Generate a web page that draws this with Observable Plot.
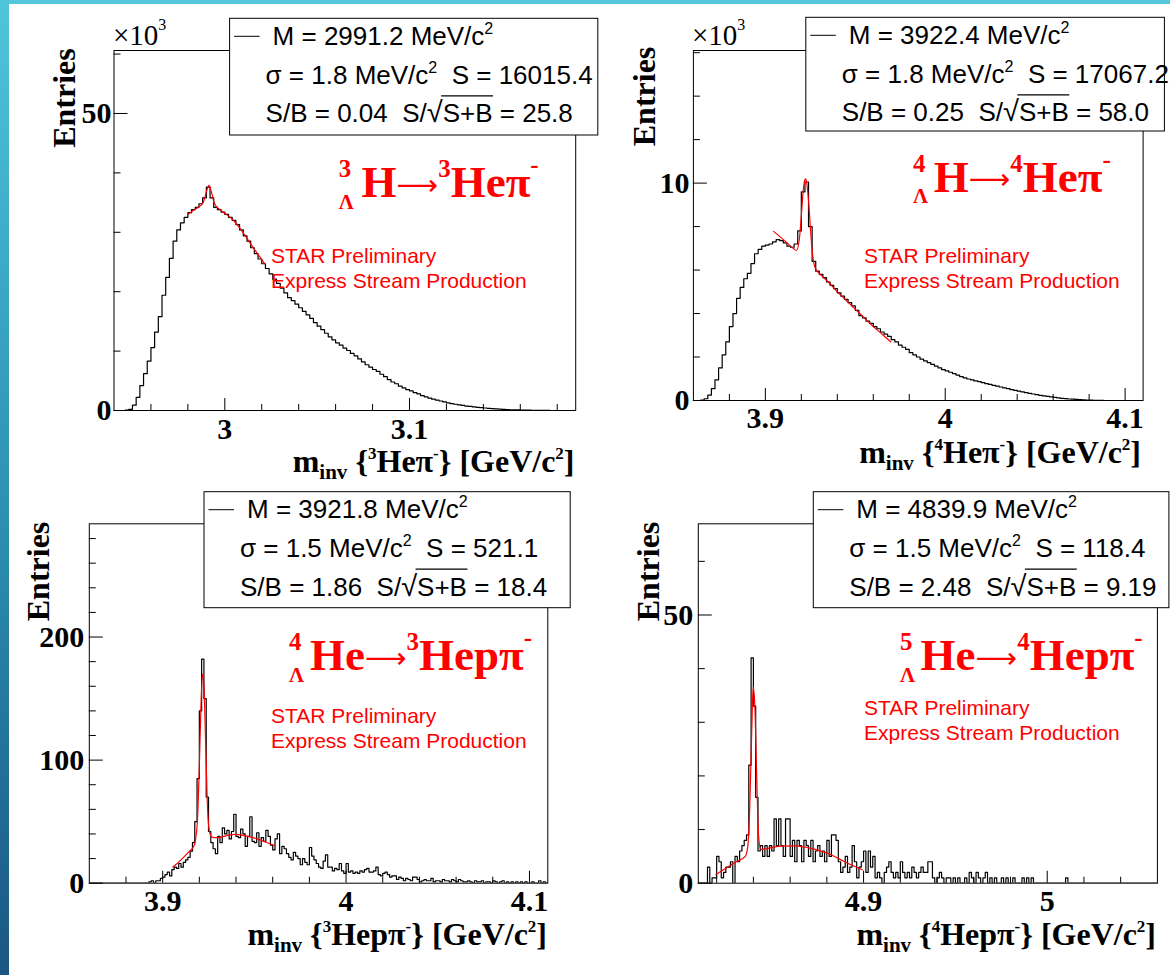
<!DOCTYPE html>
<html>
<head>
<meta charset="utf-8">
<script src="https://cdn.jsdelivr.net/npm/d3@7"></script>
<script src="https://cdn.jsdelivr.net/npm/@observablehq/plot@0.6"></script>
<style>
html, body { margin: 0; padding: 0; background: #fff; }
#page { position: relative; width: 1170px; height: 975px; overflow: hidden; background: #fff; }
.band-left { position: absolute; left: 0; top: 0; width: 9px; height: 975px; background: linear-gradient(#4ec5db, #2b8db2 55%, #1a5682); }
.band-top { position: absolute; left: 0; top: 0; width: 1170px; height: 4px; background: #55c6dc; }
</style>
</head>
<body>
<div id="page"><div class="band-top"></div><div class="band-left"></div></div>
<script>
// ---------------- DATA ----------------
// Panel 1: 3ΛH -> 3He π-  (counts in units of 10^3, bins of 0.002 GeV starting at 2.94)
const p1Start = 2.94, p1BinWidth = 0.002;
const p1Counts = [0, 0, 0, 0.05, 0.2, 0.9, 2.2, 4.2, 6.2, 8.3,
  10.6, 13.2, 15.8, 19.4, 22.4, 25.6, 28.5, 30.4, 31.6, 32.5,
  33.3, 33.8, 34.2, 34.8, 35.8, 37.6, 35.8, 34.2, 33.8, 33.4,
  33.0, 32.5, 32.0, 31.3, 30.4, 29.4, 28.5, 27.4, 26.4, 25.5,
  24.7, 23.9, 23.0, 22.1, 21.4, 20.6, 19.8, 19.0, 18.5, 17.9,
  17.3, 16.7, 16.1, 15.5, 14.8, 14.2, 13.6, 13.0, 12.4, 11.9,
  11.4, 11.0, 10.5, 10.1, 9.6, 9.2, 8.7, 8.2, 7.7, 7.3,
  6.9, 6.6, 6.1, 5.7, 5.2, 4.8, 4.5, 4.1, 3.8, 3.5,
  3.3, 3.0, 2.8, 2.5, 2.3, 2.1, 1.9, 1.75, 1.6, 1.45,
  1.3, 1.15, 1.05, 0.95, 0.85, 0.75, 0.68, 0.6, 0.53, 0.47,
  0.42, 0.36, 0.31, 0.26, 0.22, 0.19, 0.16, 0.13, 0.11, 0.09,
  0.07, 0.06, 0.05, 0.04, 0.03, 0.03, 0.02, 0.01, 0, 0,
  0, 0, 0, 0, 0];
const p1FitX = [2.980, 2.983, 2.986, 2.988, 2.989, 2.990, 2.991, 2.9915, 2.992, 2.993, 2.994, 2.995, 2.997, 3.000, 3.005, 3.010, 3.015, 3.0214];
const p1FitY = [33.0, 33.7, 34.3, 34.9, 35.6, 36.8, 37.7, 37.9, 37.6, 36.5, 35.2, 34.5, 33.9, 33.2, 31.9, 29.9, 27.6, 24.8];

// Panel 2: 4ΛH -> 4He π-  (units of 10^3, bins of 0.002 GeV starting at 3.86)
const p2Start = 3.86, p2BinWidth = 0.002;
const p2Counts = [0, 0, 0.02, 0.08, 0.25, 0.55, 0.95, 1.5, 2.1, 2.7,
  3.4, 4.0, 4.7, 5.2, 5.6, 5.85, 6.3, 6.75, 6.95, 7.1,
  7.15, 7.2, 7.3, 7.4, 7.35, 7.25, 7.1, 7.05, 7.2, 7.8,
  9.6, 10.05, 8.0, 6.4, 5.95, 5.8, 5.65, 5.45, 5.3, 5.15,
  4.95, 4.8, 4.65, 4.5, 4.35, 4.15, 3.9, 3.8, 3.65, 3.55,
  3.4, 3.3, 3.15, 3.05, 2.95, 2.8, 2.7, 2.55, 2.45, 2.35,
  2.2, 2.1, 2.0, 1.9, 1.82, 1.74, 1.66, 1.58, 1.5, 1.42,
  1.36, 1.3, 1.24, 1.17, 1.1, 1.04, 0.99, 0.95, 0.9, 0.87,
  0.82, 0.78, 0.74, 0.7, 0.66, 0.62, 0.58, 0.55, 0.5, 0.47,
  0.43, 0.4, 0.36, 0.33, 0.3, 0.27, 0.24, 0.21, 0.19, 0.17,
  0.14, 0.12, 0.1, 0.09, 0.07, 0.06, 0.05, 0.04, 0.03, 0.02,
  0.02, 0.01, 0.01, 0.01, 0, 0, 0, 0, 0, 0,
  0, 0, 0, 0, 0];
const p2FitX = [3.9046, 3.910, 3.9155, 3.9173, 3.919, 3.920, 3.921, 3.922, 3.9225, 3.923, 3.924, 3.925, 3.926, 3.927, 3.928, 3.930, 3.935, 3.940, 3.945, 3.950, 3.955, 3.960, 3.965, 3.9697];
const p2FitY = [7.78, 7.4, 7.0, 6.9, 7.5, 8.5, 9.6, 10.15, 10.2, 10.0, 9.2, 8.0, 6.9, 6.3, 6.05, 5.85, 5.45, 5.0, 4.6, 4.2, 3.8, 3.4, 3.05, 2.7];

// Panel 3: 4ΛHe -> 3He p π-  (entries, bins of 0.00125 GeV starting at 3.86)
const p3Start = 3.86, p3BinWidth = 0.00125;
const p3Counts = [0, 0, 0, 0, 0, 0, 0, 0, 0, 0,
  0, 0, 0, 0, 0, 0, 0, 0, 0, 0,
  0, 0, 0, 0, 0, 0, 1, 2, 0, 2,
  2, 4, 5, 7, 9, 6, 11, 13, 12, 16,
  13, 17, 19, 21, 26, 33, 50, 85, 140, 182,
  150, 70, 42, 33, 28, 24, 38, 33, 45, 40,
  43, 36, 42, 56, 38, 37, 44, 40, 30, 38,
  54, 34, 33, 41, 30, 37, 34, 43, 38, 31,
  27, 36, 40, 24, 30, 28, 24, 21, 19, 25,
  22, 20, 15, 20, 17, 15, 29, 22, 19, 16,
  13, 12, 18, 23, 13, 13, 10, 12, 11, 16,
  10, 8, 16, 9, 10, 8, 9, 8, 10, 9,
  11, 12, 9, 9, 10, 13, 7, 6, 8, 9,
  7, 5, 6, 6, 3, 5, 4, 2, 4, 3,
  2, 5, 5, 3, 1, 2, 3, 2, 2, 4,
  1, 2, 2, 1, 3, 2, 2, 1, 3, 2,
  1, 3, 2, 1, 1, 2, 1, 0, 2, 1,
  1, 2, 0, 1, 1, 0, 2, 1, 0, 1,
  2, 0, 1, 0, 1, 0, 1, 0, 1, 0,
  1, 0, 0, 1, 0, 0, 2, 0, 1, 0];
const p3FitX = [3.9055, 3.910, 3.914, 3.9173, 3.918, 3.919, 3.920, 3.921, 3.9218, 3.9225, 3.9235, 3.9245, 3.9255, 3.9265, 3.928, 3.932, 3.936, 3.940, 3.944, 3.948, 3.952, 3.956, 3.9609];
const p3FitY = [13, 19, 25, 31, 36, 52, 95, 150, 170, 160, 110, 60, 42, 38, 37, 37.5, 39, 39.6, 38.8, 37.5, 35.8, 33.5, 30.6];

// Panel 4: 5ΛHe -> 4He p π-  (entries, bins of 0.00125 GeV starting at 4.81)
const p4Start = 4.81, p4BinWidth = 0.00125;
const p4Counts = [0, 0, 0, 0, 3, 0, 1, 1, 5, 4,
  1, 2, 3, 3, 4, 0, 5, 4, 6, 7,
  8, 9, 22, 42, 33, 16, 6, 7, 5, 7,
  5, 7, 6, 12, 7, 12, 7, 5, 12, 12,
  5, 8, 4, 8, 7, 4, 8, 7, 5, 8,
  4, 6, 7, 5, 6, 4, 8, 5, 9, 9,
  8, 4, 2, 3, 5, 2, 3, 7, 4, 1,
  3, 4, 6, 2, 6, 3, 5, 1, 2, 1,
  0, 2, 3, 4, 2, 1, 2, 1, 4, 2,
  1, 2, 1, 3, 2, 1, 2, 3, 2, 2,
  4, 4, 1, 0, 1, 2, 1, 0, 1, 1,
  0, 1, 0, 1, 0, 0, 1, 0, 2, 1,
  0, 2, 1, 0, 1, 2, 0, 1, 0, 1,
  0, 0, 1, 0, 1, 0, 0, 1, 0, 0,
  0, 1, 0, 1, 0, 1, 0, 0, 0, 0,
  0, 0, 0, 0, 0, 0, 0, 0, 0, 0,
  1, 0, 0, 0, 0, 0, 0, 0, 0, 0,
  0, 0, 0, 0, 0, 0, 0, 0, 0, 0,
  0, 0, 0, 0, 0, 0, 0, 0, 0, 0,
  0, 0, 0, 0, 0, 0, 0, 0, 0, 0];
const p4FitX = [4.8196, 4.825, 4.830, 4.8356, 4.837, 4.838, 4.839, 4.8399, 4.8408, 4.8418, 4.8428, 4.844, 4.848, 4.855, 4.8629, 4.870, 4.8811, 4.8902, 4.8993];
const p4FitY = [1.6, 2.8, 3.9, 5.0, 7.0, 14, 27, 36.6, 33, 20, 9, 6.3, 6.5, 6.9, 6.95, 6.6, 5.5, 3.9, 2.5];

// Axis domains and ticks
const xDomains = [[2.94, 3.19], [3.86, 4.11], [3.86, 4.11], [4.81, 5.06]];
const yDomains = [[0, 60.6], [0, 16.1], [0, 292], [0, 67]];
const xMajorTicks = [[3.0, 3.1], [3.9, 4.0, 4.1], [3.9, 4.0, 4.1], [4.9, 5.0]];
const xMinorTicks = [
  [2.96, 2.98, 3.02, 3.04, 3.06, 3.08, 3.12, 3.14, 3.16, 3.18],
  [3.88, 3.92, 3.94, 3.96, 3.98, 4.02, 4.04, 4.06, 4.08],
  [3.88, 3.92, 3.94, 3.96, 3.98, 4.02, 4.04, 4.06, 4.08],
  [4.82, 4.84, 4.86, 4.88, 4.92, 4.94, 4.96, 4.98, 5.02, 5.04]];
const yMajorTicks = [[0, 50], [0, 10], [0, 100, 200], [0, 50]];
const yMinorTicks = [[10, 20, 30, 40, 60], [2, 4, 6, 8, 12, 14, 16],
  [20, 40, 60, 80, 120, 140, 160, 180, 220, 240, 260, 280], [10, 20, 30, 40, 60]];
const yExponent = ["3", "3", null, null];

// Texts
const legendM = ["2991.2", "3922.4", "3921.8", "4839.9"];
const legendSigma = ["1.8", "1.8", "1.5", "1.5"];
const legendS = ["16015.4", "17067.2", "521.1", "118.4"];
const legendSB = ["0.04", "0.25", "1.86", "2.48"];
const legendSignif = ["25.8", "58.0", "18.4", "9.19"];
const titleMass = ["3", "4", "4", "5"];
const titleParent = ["H", "H", "He", "He"];
const titleDaughterMass = ["3", "4", "3", "4"];
const titleDaughter = ["He", "He", "Hep", "Hep"];
const axisDaughterMass = ["3", "4", "3", "4"];
const axisDaughter = ["Heπ", "Heπ", "Hepπ", "Hepπ"];

// ---------------- LAYOUT (page pixels) ----------------
const layout = [
  {frame: {x0: 113.5, x1: 575.2, y0: 50, y1: 410}, xdy: 7.5, ydx: -2.5,
   box: {x: 229.6, y: 18.3, w: 368.2, h: 116.7}, title: {px: 338.7, hx: 361.6, base: 197},
   star: {x: 271, y: 263}, entries: {x: 74.6, y: 48.3}, axis: {x: 574.5, y: 472}, exp: {x: 113, y: 45}},
  {frame: {x0: 692.9, x1: 1142.6, y0: 50, y1: 400}, xdy: 6.5, ydx: -4,
   box: {x: 805.8, y: 17.3, w: 358.6, h: 113.7}, title: {px: 913, hx: 933.7, base: 191.7},
   star: {x: 864.1, y: 263}, entries: {x: 654.5, y: 46.7}, axis: {x: 1141, y: 463}, exp: {x: 692, y: 44.5}},
  {frame: {x0: 88.8, x1: 547.3, y0: 523.3, y1: 882.7}, xdy: 6.5, ydx: -5,
   box: {x: 204, y: 491.7, w: 366.2, h: 116}, title: {px: 289, hx: 310, base: 670},
   star: {x: 271, y: 723}, entries: {x: 49, y: 521.7}, axis: {x: 547, y: 945}},
  {frame: {x0: 697.8, x1: 1156.9, y0: 523.3, y1: 882.7}, xdy: 6.5, ydx: -5,
   box: {x: 813.3, y: 491.7, w: 355.6, h: 116}, title: {px: 899.9, hx: 920.6, base: 670},
   star: {x: 864.1, y: 715}, entries: {x: 659, y: 521.7}, axis: {x: 1156, y: 945}}
];

const SERIF = "'Liberation Serif', 'Times New Roman', serif";
const SANS = "'Liberation Sans', Arial, sans-serif";
const W = 1170, H = 975;
const page = document.getElementById("page");

const panels = [
  {start: p1Start, bw: p1BinWidth, counts: p1Counts, fitX: p1FitX, fitY: p1FitY},
  {start: p2Start, bw: p2BinWidth, counts: p2Counts, fitX: p2FitX, fitY: p2FitY},
  {start: p3Start, bw: p3BinWidth, counts: p3Counts, fitX: p3FitX, fitY: p3FitY},
  {start: p4Start, bw: p4BinWidth, counts: p4Counts, fitX: p4FitX, fitY: p4FitY}
];

panels.forEach((p, i) => {
  const L = layout[i];
  const fw = L.frame.x1 - L.frame.x0, fh = L.frame.y1 - L.frame.y0;
  const hist = p.counts.map((c, k) => ({x: p.start + k * p.bw, y: c}));
  hist.push({x: p.start + p.counts.length * p.bw, y: p.counts[p.counts.length - 1]});
  const fit = p.fitX.map((x, k) => ({x, y: p.fitY[k]}));
  const svg = Plot.plot({
    width: W, height: H,
    marginLeft: L.frame.x0, marginRight: W - L.frame.x1,
    marginTop: L.frame.y0, marginBottom: H - L.frame.y1,
    x: {domain: xDomains[i], axis: null},
    y: {domain: yDomains[i], axis: null},
    marks: [
      Plot.line(hist, {x: "x", y: "y", curve: "step-after", stroke: "#000", strokeWidth: 1.2, clip: true}),
      Plot.line(fit, {x: "x", y: "y", curve: "monotone-x", stroke: "#ff0000", strokeWidth: 1.2, clip: true}),
      Plot.tickX(xMinorTicks[i], {x: d => d, insetTop: fh - 6, stroke: "#000"}),
      Plot.tickX(xMajorTicks[i], {x: d => d, insetTop: fh - 12, stroke: "#000"}),
      Plot.tickY(yMinorTicks[i], {y: d => d, insetRight: fw - 7, stroke: "#000"}),
      Plot.tickY(yMajorTicks[i], {y: d => d, insetRight: fw - 14, stroke: "#000"}),
      Plot.text(xMajorTicks[i], {x: d => d, frameAnchor: "bottom", lineAnchor: "top", dy: L.xdy,
        text: d => String(d), fontFamily: SERIF, fontSize: 30, fontWeight: "bold", fill: "#000"}),
      Plot.text(yMajorTicks[i], {y: d => d, frameAnchor: "left", textAnchor: "end", lineAnchor: "middle", dx: L.ydx,
        text: d => String(d), fontFamily: SERIF, fontSize: 30, fontWeight: "bold", fill: "#000"}),
      Plot.frame({stroke: "#000", strokeWidth: 1})
    ]
  });
  svg.style.position = "absolute";
  svg.style.left = "0px";
  svg.style.top = "0px";
  svg.style.overflow = "visible";
  svg.style.background = "none";
  svg.style.maxWidth = "none";
  page.appendChild(svg);
});

// ---------------- ANNOTATIONS ----------------
const ov = d3.select(page).append("svg")
  .attr("width", W).attr("height", H)
  .style("position", "absolute").style("left", "0px").style("top", "0px").style("overflow", "visible");

layout.forEach((L, i) => {
  const g = ov.append("g");

  // y-axis title
  g.append("text")
    .attr("transform", `translate(${L.entries.x},${L.entries.y}) rotate(-90)`)
    .attr("text-anchor", "end").attr("font-family", SERIF).attr("font-weight", "bold")
    .attr("font-size", 32).attr("fill", "#000").text("Entries");

  // exponent
  if (yExponent[i]) {
    const e = g.append("text").attr("x", L.exp.x).attr("y", L.exp.y)
      .attr("font-family", SERIF).attr("font-size", 29).attr("fill", "#000");
    e.append("tspan").text("×10");
    e.append("tspan").attr("font-size", 16).attr("dy", -15).text(yExponent[i]);
  }

  // x-axis title
  const a = g.append("text").attr("x", L.axis.x).attr("y", L.axis.y).attr("text-anchor", "end")
    .attr("font-family", SERIF).attr("font-weight", "bold").attr("font-size", 32).attr("fill", "#000")
    .style("white-space", "pre");
  a.append("tspan").text("m");
  a.append("tspan").attr("font-size", 21).attr("dy", 7).text("inv");
  a.append("tspan").attr("dy", -7).text(" {");
  a.append("tspan").attr("font-size", 17).attr("dy", -13).text(axisDaughterMass[i]);
  a.append("tspan").attr("dy", 13).text(axisDaughter[i]);
  a.append("tspan").attr("font-size", 17).attr("dy", -13).text("-");
  a.append("tspan").attr("dy", 13).text("} [GeV/c");
  a.append("tspan").attr("font-size", 17).attr("dy", -13).text("2");
  a.append("tspan").attr("dy", 13).text("]");

  // decay title
  const t = g.append("text").attr("font-family", SERIF).attr("font-weight", "bold").attr("fill", "#ff0000")
    .style("white-space", "pre");
  t.append("tspan").attr("x", L.title.px).attr("y", L.title.base - 20).attr("font-size", 25).text(titleMass[i]);
  t.append("tspan").attr("x", L.title.px).attr("y", L.title.base + 11.5).attr("font-size", 21).text("Λ");
  t.append("tspan").attr("x", L.title.hx).attr("y", L.title.base).attr("font-size", 45).text(titleParent[i]);
  t.append("tspan").attr("font-family", "'DejaVu Sans', sans-serif").attr("font-weight", "normal")
    .attr("font-size", 29).attr("dy", -2.5).text("⟶");
  t.append("tspan").attr("dy", -17.5).attr("font-size", 25).text(titleDaughterMass[i]);
  t.append("tspan").attr("dy", 20).attr("font-size", 45).text(titleDaughter[i] + "π");
  t.append("tspan").attr("dy", -24).attr("font-size", 25).text("-");

  // STAR text
  g.append("text").attr("x", L.star.x).attr("y", L.star.y).attr("font-family", SANS).attr("font-size", 21)
    .attr("fill", "#ff0000").text("STAR Preliminary");
  g.append("text").attr("x", L.star.x).attr("y", L.star.y + 24.5).attr("font-family", SANS).attr("font-size", 21)
    .attr("fill", "#ff0000").text("Express Stream Production");

  // legend box
  const b = L.box;
  g.append("rect").attr("x", b.x).attr("y", b.y).attr("width", b.w).attr("height", b.h)
    .attr("fill", "#fff").attr("stroke", "#000").attr("stroke-width", 1);
  g.append("line").attr("x1", b.x + 4.5).attr("x2", b.x + 30).attr("y1", b.y + 18).attr("y2", b.y + 18)
    .attr("stroke", "#000").attr("stroke-width", 1);
  const t1 = g.append("text").attr("x", b.x + 43).attr("y", b.y + 26.7).attr("font-family", SANS)
    .attr("font-size", 26).attr("fill", "#000").style("white-space", "pre");
  t1.append("tspan").text("M = " + legendM[i] + " MeV/c");
  t1.append("tspan").attr("font-size", 16).attr("dy", -11).text("2");
  const t2 = g.append("text").attr("x", b.x + 36).attr("y", b.y + 65.3).attr("font-family", SANS)
    .attr("font-size", 26).attr("fill", "#000").style("white-space", "pre");
  t2.append("tspan").text("σ = " + legendSigma[i] + " MeV/c");
  t2.append("tspan").attr("font-size", 16).attr("dy", -11).text("2");
  t2.append("tspan").attr("dy", 11).text("  S = " + legendS[i]);
  const t3 = g.append("text").attr("x", b.x + 36).attr("y", b.y + 104).attr("font-family", SANS)
    .attr("font-size", 26).attr("fill", "#000").style("white-space", "pre");
  t3.append("tspan").text("S/B = " + legendSB[i] + "  S/");
  const rad = t3.append("tspan").attr("font-size", 29).text("√");
  const sb = t3.append("tspan").text("S+B");
  t3.append("tspan").text(" = " + legendSignif[i]);
  try {
    const xr = rad.node().getEndPositionOfChar(0).x - 1.5;
    const xe = sb.node().getEndPositionOfChar(2).x + 0.5;
    g.append("line").attr("x1", xr).attr("x2", xe).attr("y1", b.y + 104 - 26.5).attr("y2", b.y + 104 - 26.5)
      .attr("stroke", "#000").attr("stroke-width", 1.2);
  } catch (err) {}
});
</script>
</body>
</html>
